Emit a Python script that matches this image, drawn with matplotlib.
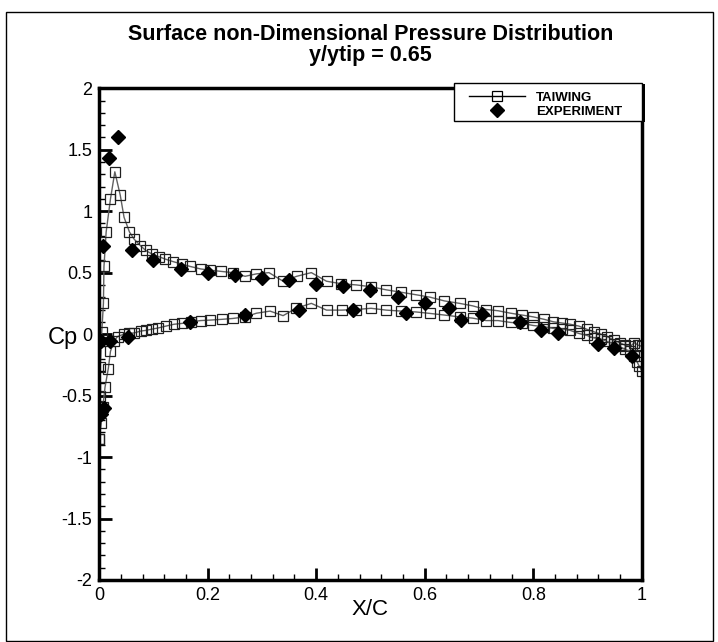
import matplotlib
matplotlib.use('Agg')
import matplotlib.pyplot as plt
from matplotlib.patches import Rectangle
from matplotlib.ticker import MultipleLocator

# TAIWING computed Cp, upper branch (LE -> TE)
cfd_upper_x = [0.000, 0.001, 0.002, 0.002, 0.005, 0.008, 0.009, 0.013, 0.021, 0.029,
               0.039, 0.046, 0.056, 0.065, 0.076, 0.086, 0.098, 0.110, 0.122, 0.136,
               0.152, 0.168, 0.187, 0.205, 0.225, 0.246, 0.269, 0.290, 0.313, 0.339,
               0.364, 0.391, 0.419, 0.446, 0.474, 0.501, 0.529, 0.557, 0.584, 0.610,
               0.636, 0.664, 0.688, 0.713, 0.735, 0.758, 0.779, 0.800, 0.820, 0.837,
               0.853, 0.868, 0.884, 0.898, 0.911, 0.924, 0.936, 0.948, 0.959, 0.969,
               0.979, 0.986, 0.993, 1.000]
cfd_upper_cp = [-0.85, -0.64, -0.50, -0.27, 0.02, 0.25, 0.55, 0.83, 1.10, 1.32,
                1.13, 0.95, 0.83, 0.77, 0.72, 0.68, 0.65, 0.63, 0.61, 0.59,
                0.57, 0.55, 0.53, 0.52, 0.51, 0.50, 0.47, 0.49, 0.50, 0.43,
                0.47, 0.50, 0.43, 0.41, 0.40, 0.385, 0.36, 0.34, 0.32, 0.30,
                0.27, 0.25, 0.23, 0.20, 0.19, 0.17, 0.155, 0.14, 0.12, 0.10,
                0.09, 0.08, 0.065, 0.04, 0.02, 0.00, -0.02, -0.05, -0.07, -0.09,
                -0.10, -0.07, -0.09, -0.10]

# TAIWING computed Cp, lower branch (LE -> TE)
cfd_lower_x = [0.000, 0.004, 0.007, 0.011, 0.017, 0.021, 0.027, 0.034, 0.046, 0.055,
               0.065, 0.077, 0.086, 0.097, 0.109, 0.123, 0.138, 0.153, 0.170, 0.187,
               0.205, 0.226, 0.246, 0.269, 0.290, 0.315, 0.339, 0.363, 0.391, 0.419,
               0.447, 0.474, 0.501, 0.529, 0.557, 0.584, 0.610, 0.636, 0.664, 0.688,
               0.713, 0.735, 0.758, 0.779, 0.800, 0.820, 0.837, 0.853, 0.868, 0.884,
               0.898, 0.911, 0.924, 0.936, 0.948, 0.959, 0.969, 0.979, 0.986, 0.991,
               0.995, 1.000]
cfd_lower_cp = [-0.85, -0.72, -0.59, -0.43, -0.28, -0.14, -0.06, -0.02, 0.00, 0.005,
                0.01, 0.025, 0.03, 0.04, 0.05, 0.065, 0.08, 0.087, 0.10, 0.11,
                0.114, 0.12, 0.127, 0.14, 0.17, 0.187, 0.15, 0.21, 0.25, 0.195,
                0.195, 0.20, 0.21, 0.195, 0.187, 0.18, 0.168, 0.155, 0.14, 0.13,
                0.11, 0.11, 0.095, 0.087, 0.07, 0.06, 0.046, 0.04, 0.03, 0.005,
                -0.01, -0.03, -0.04, -0.06, -0.08, -0.10, -0.125, -0.14, -0.18, -0.225,
                -0.26, -0.30]

# experiment
exp_upper_x = [0.003, 0.009, 0.007, 0.019, 0.034, 0.060, 0.100, 0.150, 0.200, 0.250,
               0.300, 0.350, 0.400, 0.450, 0.500, 0.550, 0.600, 0.645, 0.706, 0.776,
               0.815, 0.845, 0.920, 0.948, 0.982]
exp_upper_cp = [-0.65, -0.60, 0.72, 1.43, 1.60, 0.68, 0.60, 0.53, 0.50, 0.48,
                0.46, 0.44, 0.41, 0.39, 0.36, 0.30, 0.25, 0.21, 0.16, 0.095,
                0.03, 0.01, -0.08, -0.11, -0.18]
exp_lower_x = [0.004, 0.020, 0.054, 0.168, 0.269, 0.368, 0.468, 0.566, 0.666]
exp_lower_cp = [-0.06, -0.06, -0.02, 0.10, 0.155, 0.20, 0.20, 0.17, 0.115]


def main():
    plt.rcParams['font.family'] = ['Liberation Sans', 'DejaVu Sans']
    fig = plt.figure(figsize=(7.18, 6.42), dpi=100)
    ax = fig.add_axes([0.138, 0.0966, 0.756, 0.766])

    line_kw = dict(color='#606060', lw=1.0, marker='s', ms=6.5, mfc='none',
                   mec='#202020', mew=0.9)
    ax.plot(cfd_upper_x, cfd_upper_cp, label='TAIWING', **line_kw)
    ax.plot(cfd_lower_x, cfd_lower_cp, **line_kw)
    ax.plot(exp_upper_x, exp_upper_cp, ls='none', marker='D', ms=7, color='black',
            label='EXPERIMENT')
    ax.plot(exp_lower_x, exp_lower_cp, ls='none', marker='D', ms=7, color='black')

    ax.set_xlim(0, 1)
    ax.set_ylim(-2, 2)
    ax.xaxis.set_major_locator(MultipleLocator(0.2))
    ax.xaxis.set_minor_locator(MultipleLocator(0.04))
    ax.yaxis.set_major_locator(MultipleLocator(0.5))
    ax.yaxis.set_minor_locator(MultipleLocator(0.1))
    ax.xaxis.set_major_formatter(lambda v, p: '%g' % round(v, 2))
    ax.yaxis.set_major_formatter(lambda v, p: '%g' % round(v, 2))
    ax.tick_params(which='major', direction='in', length=9, width=2,
                   labelsize=13, pad=5)
    ax.tick_params(which='minor', direction='in', length=4.5, width=1)
    for s in ax.spines.values():
        s.set_linewidth(2.5)

    ax.set_xlabel('X/C', fontsize=16, va='center')
    ax.xaxis.set_label_coords(0.5, -0.06)
    ax.set_ylabel('Cp', fontsize=17, rotation=0, va='center', ha='center')
    ax.yaxis.set_label_coords(-0.066, 0.493)

    fig.text(0.516, 1 - 34 / 642, 'Surface non-Dimensional Pressure Distribution',
             ha='center', va='center', fontsize=15.5, fontweight='bold')
    fig.text(0.516, 1 - 55 / 642, 'y/ytip = 0.65',
             ha='center', va='center', fontsize=15.5, fontweight='bold')

    # legend box with a solid black drop shadow, drawn by hand
    ax.add_patch(Rectangle((0.659, 0.931), 0.346, 0.077, transform=ax.transAxes,
                           facecolor='black', edgecolor='none', clip_on=False,
                           zorder=5))
    ax.add_patch(Rectangle((0.654, 0.933), 0.346, 0.077, transform=ax.transAxes,
                           facecolor='white', edgecolor='black', lw=1.0,
                           clip_on=False, zorder=6))
    leg = ax.legend(loc='upper left', bbox_to_anchor=(0.681, 0.993),
                    frameon=False, prop={'size': 9.5, 'weight': 'bold'},
                    handlelength=4.3, handletextpad=0.8, labelspacing=0.12,
                    borderpad=0, borderaxespad=0)
    leg.set_zorder(7)
    leg.legend_handles[0].set_color('black')
    leg.legend_handles[0].set_markeredgecolor('black')

    fig.patches.append(Rectangle((6 / 718, 0.002), 707 / 718, 1 - 12 / 642 - 0.002,
                                 transform=fig.transFigure, fill=False,
                                 edgecolor='black', lw=1.0))

    fig.savefig('out.png', dpi=100)


if __name__ == "__main__":
    main()
